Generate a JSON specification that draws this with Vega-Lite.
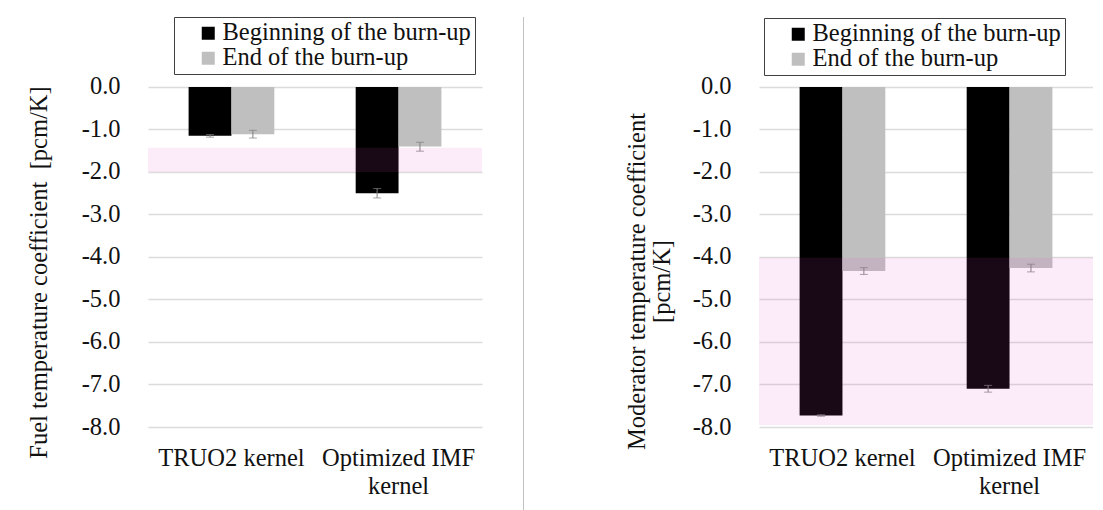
{
  "$schema": "https://vega.github.io/schema/vega-lite/v6.json",
  "background": "white",
  "padding": {"left": 26, "top": 16, "right": 0, "bottom": 0},
  "config": {
    "font": "'Liberation Serif', 'Times New Roman', Times, serif",
    "view": {"stroke": null},
    "axis": {
      "labelFont": "'Liberation Serif', 'Times New Roman', Times, serif",
      "labelFontSize": 24.5,
      "labelColor": "#111111",
      "titleFont": "'Liberation Serif', 'Times New Roman', Times, serif",
      "titleFontSize": 24.5,
      "titleFontWeight": "normal",
      "titleColor": "#111111",
      "domain": false,
      "ticks": false,
      "gridColor": "#dcdcdc",
      "gridWidth": 1.5
    },
    "legend": {
      "title": null,
      "orient": "none",
      "direction": "vertical",
      "symbolType": "square",
      "symbolSize": 169,
      "symbolStrokeWidth": 0,
      "symbolOffset": 18,
      "labelOffset": 2,
      "labelFont": "'Liberation Serif', 'Times New Roman', Times, serif",
      "labelFontSize": 24.5,
      "labelColor": "#111111",
      "labelLimit": 400,
      "rowPadding": 0,
      "padding": 4,
      "strokeColor": "#404040",
      "fillColor": "white"
    }
  },
  "datasets": {
    "bars": [
      {"panel": "fuel", "kernel": "TRUO2 kernel", "stage": "Beginning of the burn-up", "value": -1.15, "low": -1.18, "high": -1.12},
      {"panel": "fuel", "kernel": "TRUO2 kernel", "stage": "End of the burn-up", "value": -1.11, "low": -1.2, "high": -1.02},
      {"panel": "fuel", "kernel": "Optimized IMF kernel", "stage": "Beginning of the burn-up", "value": -2.5, "low": -2.61, "high": -2.39},
      {"panel": "fuel", "kernel": "Optimized IMF kernel", "stage": "End of the burn-up", "value": -1.4, "low": -1.51, "high": -1.3},
      {"panel": "mod", "kernel": "TRUO2 kernel", "stage": "Beginning of the burn-up", "value": -7.73, "low": -7.75, "high": -7.71},
      {"panel": "mod", "kernel": "TRUO2 kernel", "stage": "End of the burn-up", "value": -4.33, "low": -4.41, "high": -4.25},
      {"panel": "mod", "kernel": "Optimized IMF kernel", "stage": "Beginning of the burn-up", "value": -7.1, "low": -7.18, "high": -7.02},
      {"panel": "mod", "kernel": "Optimized IMF kernel", "stage": "End of the burn-up", "value": -4.26, "low": -4.35, "high": -4.17}
    ],
    "bands": [
      {"panel": "fuel", "top": -1.43, "bottom": -2.0},
      {"panel": "mod", "top": -4.02, "bottom": -7.95}
    ]
  },
  "spacing": 100,
  "bounds": "full",
  "resolve": {"scale": {"color": "independent", "x": "independent", "y": "independent"}, "legend": {"color": "independent"}},
  "hconcat": [
    {
      "spacing": 41,
      "bounds": "full",
      "resolve": {"scale": {"color": "independent", "x": "independent", "y": "independent"}, "legend": {"color": "independent"}},
      "hconcat": [
        {
          "width": 334,
          "height": 410,
          "layer": [
            {
              "data": {"name": "bars"},
              "transform": [{"filter": "datum.panel === 'fuel'"}],
              "mark": {"type": "bar"},
              "encoding": {
                "x": {
                  "field": "kernel", "type": "nominal",
                  "sort": ["TRUO2 kernel", "Optimized IMF kernel"],
                  "scale": {"paddingInner": 0.487, "paddingOuter": 0.243},
                  "axis": {"title": null, "labelAngle": 0, "labelPadding": 19, "labelLineHeight": 28, "labelLimit": 300, "grid": false,
                           "labelExpr": "datum.label === 'Optimized IMF kernel' ? ['Optimized IMF', 'kernel'] : datum.label"}
                },
                "xOffset": {"field": "stage", "type": "nominal", "scale": {"paddingInner": 0, "paddingOuter": 0}},
                "y": {
                  "field": "value", "type": "quantitative",
                  "scale": {"domain": [-8, 1.647], "nice": false, "zero": true},
                  "axis": {"title": "Fuel temperature coefficient\u00a0 [pcm/K]", "values": [0, -1, -2, -3, -4, -5, -6, -7, -8],
                           "labelExpr": "(datum.value < 0 ? '-' : '') + format(abs(datum.value), '.1f')",
                           "labelPadding": 28, "titlePadding": 30, "titleY": 255, "grid": true}
                },
                "color": {
                  "field": "stage", "type": "nominal",
                  "scale": {"domain": ["Beginning of the burn-up", "End of the burn-up"], "range": ["#000000", "#bfbfbf"]},
                  "legend": {"legendX": 26, "legendY": 0}
                }
              }
            },
            {
              "data": {"name": "bars"},
              "transform": [{"filter": "datum.panel === 'fuel'"}],
              "mark": {"type": "rule", "color": "#808080", "strokeWidth": 1},
              "encoding": {
                "x": {"field": "kernel", "type": "nominal", "sort": ["TRUO2 kernel", "Optimized IMF kernel"]},
                "xOffset": {"field": "stage", "type": "nominal"},
                "y": {"field": "low", "type": "quantitative"},
                "y2": {"field": "high"}
              }
            },
            {
              "data": {"name": "bars"},
              "transform": [{"filter": "datum.panel === 'fuel'"}],
              "mark": {"type": "tick", "color": "#808080", "thickness": 1, "size": 8},
              "encoding": {
                "x": {"field": "kernel", "type": "nominal", "sort": ["TRUO2 kernel", "Optimized IMF kernel"]},
                "xOffset": {"field": "stage", "type": "nominal"},
                "y": {"field": "low", "type": "quantitative"}
              }
            },
            {
              "data": {"name": "bars"},
              "transform": [{"filter": "datum.panel === 'fuel'"}],
              "mark": {"type": "tick", "color": "#808080", "thickness": 1, "size": 8},
              "encoding": {
                "x": {"field": "kernel", "type": "nominal", "sort": ["TRUO2 kernel", "Optimized IMF kernel"]},
                "xOffset": {"field": "stage", "type": "nominal"},
                "y": {"field": "high", "type": "quantitative"}
              }
            },
            {
              "data": {"name": "bands"},
              "transform": [{"filter": "datum.panel === 'fuel'"}],
              "mark": {"type": "rect", "color": "#e14cc8", "opacity": 0.11},
              "encoding": {
                "y": {"field": "top", "type": "quantitative"},
                "y2": {"field": "bottom"}
              }
            }
          ]
        },
        {
          "width": 1,
          "height": 494,
          "view": {"fill": "#c2c2c2", "stroke": null},
          "data": {"values": [{}]},
          "mark": {"type": "text"},
          "encoding": {"text": {"value": ""}}
        }
      ]
    },
    {
      "width": 334,
      "height": 410,
      "layer": [
        {
          "data": {"name": "bars"},
          "transform": [{"filter": "datum.panel === 'mod'"}],
          "mark": {"type": "bar"},
          "encoding": {
            "x": {
              "field": "kernel", "type": "nominal",
              "sort": ["TRUO2 kernel", "Optimized IMF kernel"],
              "scale": {"paddingInner": 0.487, "paddingOuter": 0.243},
              "axis": {"title": null, "labelAngle": 0, "labelPadding": 19, "labelLineHeight": 28, "labelLimit": 300, "grid": false,
                       "labelExpr": "datum.label === 'Optimized IMF kernel' ? ['Optimized IMF', 'kernel'] : datum.label"}
            },
            "xOffset": {"field": "stage", "type": "nominal", "scale": {"paddingInner": 0, "paddingOuter": 0}},
            "y": {
              "field": "value", "type": "quantitative",
              "scale": {"domain": [-8, 1.647], "nice": false, "zero": true},
              "axis": {"title": ["Moderator temperature coefficient", "[pcm/K]"], "values": [0, -1, -2, -3, -4, -5, -6, -7, -8],
                       "labelExpr": "(datum.value < 0 ? '-' : '') + format(abs(datum.value), '.1f')",
                       "labelPadding": 28, "titlePadding": 18, "titleLineHeight": 25, "titleY": 264, "grid": true}
            },
            "color": {
              "field": "stage", "type": "nominal",
              "scale": {"domain": ["Beginning of the burn-up", "End of the burn-up"], "range": ["#000000", "#bfbfbf"]},
              "legend": {"legendX": 5, "legendY": 1}
            }
          }
        },
        {
          "data": {"name": "bars"},
          "transform": [{"filter": "datum.panel === 'mod'"}],
          "mark": {"type": "rule", "color": "#808080", "strokeWidth": 1},
          "encoding": {
            "x": {"field": "kernel", "type": "nominal", "sort": ["TRUO2 kernel", "Optimized IMF kernel"]},
            "xOffset": {"field": "stage", "type": "nominal"},
            "y": {"field": "low", "type": "quantitative"},
            "y2": {"field": "high"}
          }
        },
        {
          "data": {"name": "bars"},
          "transform": [{"filter": "datum.panel === 'mod'"}],
          "mark": {"type": "tick", "color": "#808080", "thickness": 1, "size": 8},
          "encoding": {
            "x": {"field": "kernel", "type": "nominal", "sort": ["TRUO2 kernel", "Optimized IMF kernel"]},
            "xOffset": {"field": "stage", "type": "nominal"},
            "y": {"field": "low", "type": "quantitative"}
          }
        },
        {
          "data": {"name": "bars"},
          "transform": [{"filter": "datum.panel === 'mod'"}],
          "mark": {"type": "tick", "color": "#808080", "thickness": 1, "size": 8},
          "encoding": {
            "x": {"field": "kernel", "type": "nominal", "sort": ["TRUO2 kernel", "Optimized IMF kernel"]},
            "xOffset": {"field": "stage", "type": "nominal"},
            "y": {"field": "high", "type": "quantitative"}
          }
        },
        {
          "data": {"name": "bands"},
          "transform": [{"filter": "datum.panel === 'mod'"}],
          "mark": {"type": "rect", "color": "#e14cc8", "opacity": 0.11},
          "encoding": {
            "y": {"field": "top", "type": "quantitative"},
            "y2": {"field": "bottom"}
          }
        }
      ]
    }
  ]
}
